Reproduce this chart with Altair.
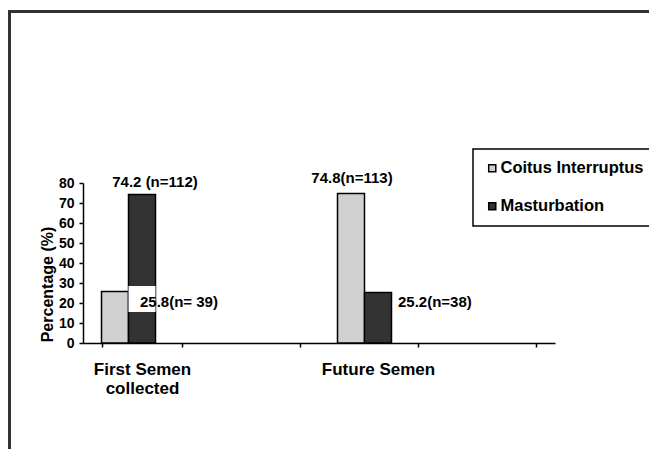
import altair as alt
import pandas as pd

categories = ["First Semen|collected", "gap1", "Future Semen", "gap2"]
series = ["Coitus Interruptus", "Masturbation"]
bar_category = ["First Semen|collected", "First Semen|collected", "Future Semen", "Future Semen"]
bar_series = ["Coitus Interruptus", "Masturbation", "Coitus Interruptus", "Masturbation"]
bar_value = [25.8, 74.2, 74.8, 25.2]
bar_label = ["25.8(n= 39)", "74.2 (n=112)", "74.8(n=113)", "25.2(n=38)"]
y_ticks = [0, 10, 20, 30, 40, 50, 60, 70, 80]

FONT = "Liberation Sans"

df = pd.DataFrame({
    "category": bar_category,
    "series": bar_series,
    "value": bar_value,
    "label": bar_label,
})

x_scale = alt.Scale(domain=categories, paddingInner=0.3136, paddingOuter=0.1568)
x_axis = alt.Axis(
    title=None,
    labelExpr="(datum.value == 'First Semen|collected' || datum.value == 'Future Semen') ? split(datum.value, '|') : ''",
    tickBand="extent",
    labelAngle=0,
    labelFont=FONT,
    labelFontSize=17,
    labelFontWeight="bold",
    labelColor="black",
    labelLineHeight=19,
    labelPadding=14,
    labelBaseline="top",
    labelOverlap=False,
    tickSize=4,
    tickColor="black",
    tickWidth=1.5,
    domainColor="black",
    domainWidth=1.5,
)
xoff_scale = alt.Scale(domain=series + ["_pad"], paddingInner=0, paddingOuter=0)
y_scale = alt.Scale(domain=[0, 80], nice=False)
y_axis = alt.Axis(
    title="Percentage (%)",
    values=y_ticks,
    grid=False,
    labelOverlap=False,
    labelFont=FONT,
    labelFontSize=14,
    labelFontWeight="bold",
    labelColor="black",
    labelPadding=5,
    tickSize=4,
    tickColor="black",
    tickWidth=1.5,
    domainColor="black",
    domainWidth=1.5,
    titleFont=FONT,
    titleFontSize=16,
    titleFontWeight="bold",
    titleColor="black",
    titlePadding=3,
    titleY=101,
)


def xe(field="category"):
    return alt.X(f"{field}:N", scale=x_scale, axis=x_axis)


def xo():
    return alt.XOffset("series:N", scale=xoff_scale)


def ye(field):
    return alt.Y(f"{field}:Q", scale=y_scale, axis=y_axis)


bars = alt.Chart(df).mark_bar(stroke="black", strokeWidth=1.5).encode(
    x=xe(),
    xOffset=xo(),
    y=ye("value"),
    color=alt.Color(
        "series:N",
        scale=alt.Scale(domain=series, range=["#d0d0d0", "#333333"]),
        legend=alt.Legend(
            title=None,
            orient="none",
            legendX=390,
            legendY=-34,
            symbolType="square",
            symbolSize=50,
            symbolStrokeColor="black",
            symbolStrokeWidth=1.5,
            labelFont=FONT,
            labelFontSize=16.5,
            labelFontWeight="bold",
            labelColor="black",
            labelOffset=0,
            padding=11,
            strokeColor="black",
            fillColor="white",
        ),
    ),
)

box_df = pd.DataFrame({"category": ["First Semen|collected"], "series": ["Masturbation"], "top": [28.5], "bottom": [15.5]})
white_box = alt.Chart(box_df).mark_bar(color="white", xOffset=2).encode(
    x=xe(),
    xOffset=xo(),
    y=ye("top"),
    y2="bottom:Q",
)

label_specs = [
    (0, "left", 25, 11),
    (1, "center", 13, -12.6),
    (2, "center", 1, -15),
    (3, "left", 20, 9),
]
text_layers = []
for idx, align, dx, dy in label_specs:
    t = alt.Chart(df.iloc[[idx]]).mark_text(
        align=align, baseline="middle", dx=dx, dy=dy,
        font=FONT, fontSize=15, fontWeight="bold", color="black",
    ).encode(
        x=xe(),
        xOffset=xo(),
        y=ye("value"),
        text="label:N",
    )
    text_layers.append(t)

frame_v = alt.Chart(pd.DataFrame({"a": [0]})).mark_rule(color="#333333", strokeWidth=3).encode(
    x=alt.value(-73.5), y=alt.value(-173), y2=alt.value(270)
)
frame_h = alt.Chart(pd.DataFrame({"a": [0]})).mark_rule(color="#333333", strokeWidth=3).encode(
    y=alt.value(-171.5), x=alt.value(-75), x2=alt.value(570)
)

chart = alt.layer(bars, white_box, *text_layers, frame_v, frame_h).properties(
    width=472,
    height=160,
    padding={"left": 75, "top": 175, "right": 94, "bottom": 106},
    autosize=alt.AutoSizeParams(type="none"),
    background="white",
).configure_view(stroke=None).configure_legend(rowPadding=21, strokeWidth=1.5)

chart.save("out.html", embed_options={"renderer": "svg", "actions": False})
